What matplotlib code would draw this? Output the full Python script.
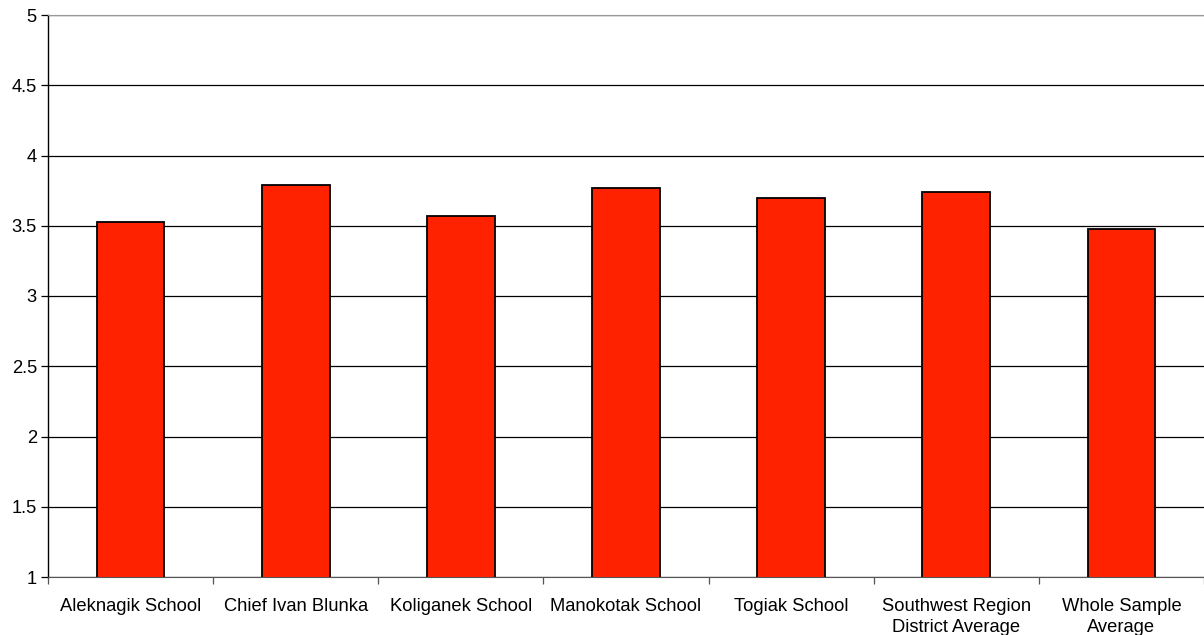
import matplotlib.pyplot as plt
import numpy as np

categories = ['Aleknagik School', 'Chief Ivan Blunka', 'Koliganek School', 'Manokotak School',
              'Togiak School', 'Southwest Region\nDistrict Average', 'Whole Sample\nAverage']
values = [3.53, 3.79, 3.57, 3.77, 3.70, 3.74, 3.48]
yticks = [1, 1.5, 2, 2.5, 3, 3.5, 4, 4.5, 5]

plt.rcParams['font.family'] = ['Liberation Sans', 'DejaVu Sans']

fig = plt.figure(figsize=(12.04, 6.35), dpi=100)
ax = fig.add_axes([48 / 1204, 58 / 635, 1 - 48 / 1204, 562 / 635])

x = np.arange(len(categories))
ax.bar(x, values, width=0.41, bottom=0, color='#ff2200', edgecolor='black', linewidth=1.3, zorder=3)

ax.set_ylim(1, 5)
ax.set_xlim(-0.5, len(categories) - 0.5)
ax.set_yticks(yticks)
ax.set_yticklabels(['1', '1.5', '2', '2.5', '3', '3.5', '4', '4.5', '5'], fontsize=13.2)
ax.yaxis.grid(True, color='black', linewidth=0.9, zorder=0)
ax.tick_params(axis='y', length=5, width=0.9, pad=3)

# category labels in the middle, ticks at the boundaries
ax.set_xticks(np.arange(len(categories) + 1) - 0.5)
ax.set_xticklabels([])
ax.set_xticks(x, minor=True)
ax.set_xticklabels(categories, minor=True, fontsize=13.2, linespacing=1.35)
ax.tick_params(axis='x', which='minor', length=0, pad=15)
ax.tick_params(axis='x', which='major', length=5, width=0.9, color='#555555')

ax.spines['top'].set_color('#999999')
ax.spines['right'].set_visible(False)
ax.spines['left'].set_linewidth(1.0)
ax.spines['bottom'].set_color('#555555')

fig.savefig('out.png', dpi=100)
